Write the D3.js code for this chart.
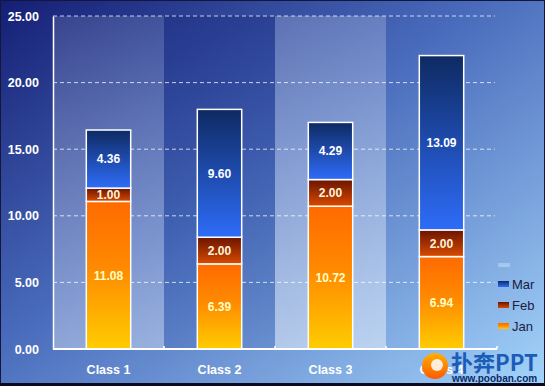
<!DOCTYPE html>
<html><head><meta charset="utf-8">
<script src="https://cdn.jsdelivr.net/npm/d3@7"></script>
<style>html,body{margin:0;padding:0;background:#fff;}svg{display:block;}</style>
</head><body>
<svg id="c" width="545" height="386"></svg>
<script>
const categories = ["Class 1", "Class 2", "Class 3", "Class 4"];
const seriesNames = ["Jan", "Feb", "Mar"];
const jan = [11.08, 6.39, 10.72, 6.94];
const feb = [1.00, 2.00, 2.00, 2.00];
const mar = [4.36, 9.60, 4.29, 13.09];
const yTicks = [0, 5, 10, 15, 20, 25];

(function () {
const W = 545, H = 386;
const svg = d3.select("#c");
const defs = svg.append("defs");
const font = "'Liberation Sans', Arial, sans-serif";

function lg(id, stops, x1, y1, x2, y2) {
  const g = defs.append("linearGradient").attr("id", id)
    .attr("x1", x1).attr("y1", y1).attr("x2", x2).attr("y2", y2);
  stops.forEach(s => g.append("stop").attr("offset", s[0]).attr("stop-color", s[1]).attr("stop-opacity", s[2] == null ? 1 : s[2]));
}
lg("bg", [[0, "#141e74"], [0.45, "#4a6cbc"], [1, "#a4d4fa"]], 0, 0, 1, 1);
lg("gJan", [[0, "#ff6a00"], [0.45, "#ff8a00"], [1, "#ffcc00"]], 0, 0, 0, 1);
lg("gFeb", [[0, "#6a1400"], [1, "#d84a00"]], 0, 0, 0, 1);
lg("gMar", [[0, "#0e2a62"], [1, "#2e6cf8"]], 0, 0, 0, 1);
lg("bLight1", [[0, "#ffffff", 0.12], [1, "#ffffff", 0.35]], 0, 0, 0, 1);
lg("bDark", [[0, "#1a2a80", 0.35], [1, "#1a3a90", 0.12]], 0, 0, 0, 1);
lg("bLight2", [[0, "#ffffff", 0.2], [1, "#ffffff", 0.45]], 0, 0, 0, 1);
lg("logoG", [[0, "#ffb000"], [1, "#ff5a00"]], 0, 0, 0, 1);

svg.append("rect").attr("width", W).attr("height", H).attr("fill", "url(#bg)");

const pLeft = 53, pRight = 497, pTop = 16, pBottom = 349;
const x = d3.scaleBand().domain(categories).range([pLeft, pRight]).paddingInner(0.6).paddingOuter(0.3);
const y = d3.scaleLinear().domain([0, 25]).range([pBottom, pTop]);
const step = x.step();

const bandFills = ["url(#bLight1)", "url(#bDark)", "url(#bLight2)", "none"];
categories.forEach((c, i) => {
  const x0 = pLeft + i * step;
  svg.append("rect").attr("x", x0).attr("y", pTop).attr("width", step).attr("height", pBottom - pTop)
    .attr("fill", bandFills[i]);
});

svg.append("g").selectAll("line").data(yTicks.filter(d => d > 0)).join("line")
  .attr("x1", pLeft).attr("x2", pRight - 2).attr("y1", d => y(d)).attr("y2", d => y(d))
  .attr("stroke", "#ffffff").attr("stroke-opacity", 0.75).attr("stroke-dasharray", "4,3").attr("stroke-width", 1);

const yAxis = d3.axisLeft(y).tickValues(yTicks).tickFormat(d3.format(".2f")).tickSize(0).tickPadding(14);
const ya = svg.append("g").attr("transform", `translate(${pLeft},0)`).call(yAxis);
ya.select(".domain").attr("stroke", "#ffffff").attr("stroke-width", 1.5);
ya.selectAll("text").attr("fill", "#ffffff").attr("font-family", font).attr("font-size", 12.5).attr("font-weight", "bold");

const rows = categories.map((c, i) => ({ cat: c, Jan: jan[i], Feb: feb[i], Mar: mar[i] }));
const stack = d3.stack().keys(seriesNames)(rows);
const fills = { Jan: "url(#gJan)", Feb: "url(#gFeb)", Mar: "url(#gMar)" };
const txtCol = { Jan: "#ffffc4", Feb: "#fff4dc", Mar: "#ffffff" };

stack.forEach(s => {
  const g = svg.append("g");
  g.selectAll("rect").data(s).join("rect")
    .attr("x", d => x(d.data.cat)).attr("width", x.bandwidth())
    .attr("y", d => y(d[1])).attr("height", d => y(d[0]) - y(d[1]))
    .attr("fill", fills[s.key]).attr("stroke", "#ffffff").attr("stroke-width", 1.5);
  g.selectAll("text").data(s).join("text")
    .attr("x", d => x(d.data.cat) + x.bandwidth() / 2)
    .attr("y", d => (y(d[0]) + y(d[1])) / 2)
    .attr("dy", "0.36em").attr("text-anchor", "middle")
    .attr("fill", txtCol[s.key]).attr("font-family", font).attr("font-size", 12).attr("font-weight", "bold")
    .text(d => d3.format(".2f")(d[1] - d[0]));
});

svg.append("line").attr("x1", pLeft).attr("x2", pRight).attr("y1", pBottom).attr("y2", pBottom)
  .attr("stroke", "#ffffff").attr("stroke-width", 2);
categories.forEach((c, i) => {
  const xx = pLeft + (i + 1) * step;
  svg.append("line").attr("x1", xx).attr("x2", xx).attr("y1", pBottom).attr("y2", pBottom - 3)
    .attr("stroke", "#ffffff").attr("stroke-width", 1.5);
});
svg.append("g").selectAll("text").data(categories).join("text")
  .attr("x", d => x(d) + x.bandwidth() / 2).attr("y", 374).attr("text-anchor", "middle")
  .attr("fill", "#ffffff").attr("font-family", font).attr("font-size", 12.5).attr("font-weight", "bold")
  .text(d => d);

svg.append("rect").attr("x", 498).attr("y", 263).attr("width", 12).attr("height", 4)
  .attr("fill", "#ffffff").attr("opacity", 0.3);
const legendItems = ["Mar", "Feb", "Jan"];
legendItems.forEach((k, i) => {
  const ly = 284 + i * 21;
  svg.append("rect").attr("x", 498).attr("y", ly - 3).attr("width", 11).attr("height", 6)
    .attr("fill", fills[k]);
  svg.append("text").attr("x", 512).attr("y", ly).attr("dy", "0.36em")
    .attr("fill", "#1a2040").attr("font-family", font).attr("font-size", 13).text(k);
});

const logo = svg.append("g");
logo.append("circle").attr("cx", 435).attr("cy", 366).attr("r", 13).attr("fill", "url(#logoG)");
logo.append("circle").attr("cx", 437).attr("cy", 365).attr("r", 6).attr("fill", "#ffffff").attr("opacity", 0.85);
logo.append("text").attr("x", 451).attr("y", 371).attr("fill", "#1a5cb8")
  .attr("font-family", "'Noto Sans CJK SC', sans-serif").attr("font-size", 22).attr("font-weight", "bold")
  .text("扑奔PPT");
logo.append("text").attr("x", 452).attr("y", 382).attr("fill", "#0a2a6a")
  .attr("font-family", font).attr("font-size", 10).attr("font-weight", "bold").text("www.pooban.com");

svg.append("rect").attr("x", 0.5).attr("y", 0.5).attr("width", W - 1).attr("height", H - 1)
  .attr("fill", "none").attr("stroke", "#14163a").attr("stroke-width", 1);
svg.append("rect").attr("x", 0).attr("y", H - 3).attr("width", W).attr("height", 3).attr("fill", "#0a0a20");
})();
</script>
</body></html>
